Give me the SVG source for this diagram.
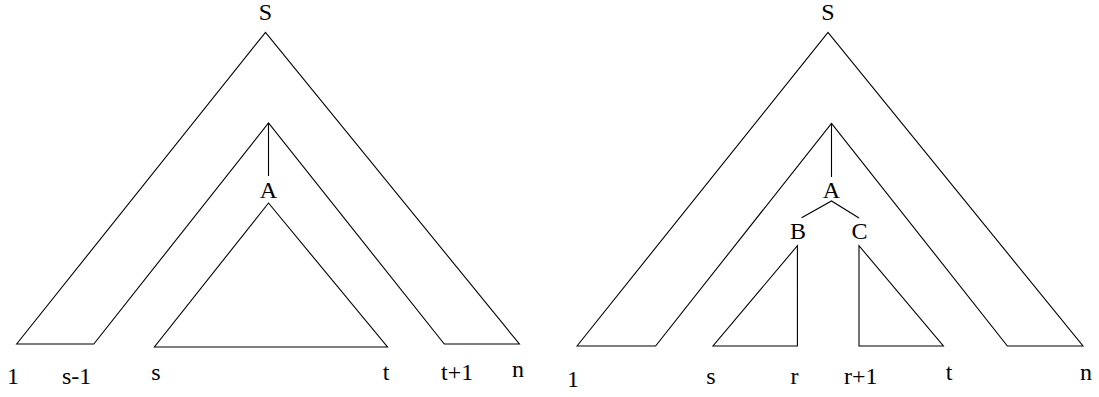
<svg xmlns="http://www.w3.org/2000/svg" width="1099" height="397" viewBox="0 0 1099 397">
<style>
.ln{fill:none;stroke:#000;stroke-width:1.1;stroke-linejoin:miter}
.lb{font-family:"Liberation Serif","Times New Roman",serif;font-size:24px;fill:#000;text-anchor:middle}
.ls{font-family:"Liberation Serif","Times New Roman",serif;font-size:24px;fill:#000;text-anchor:start}
</style>
<rect width="1099" height="397" fill="#fff"/>
<g id="connectors">
<path class="ln" d="M268.5,123 V176"/>
<path class="ln" d="M831.5,123.3 V177"/>
<path class="ln" d="M801.6,217.7 L831.5,201 L859,218"/>
</g>
<g id="left-tree">
<g id="left-S"><text class="lb" x="265.5" y="19.5">S</text></g>
<g id="left-outer"><path class="ln" d="M16.6,344 L265.5,32.3 L519.4,344 L444.3,344 L268.5,123 L93.8,344 Z"/></g>
<g id="left-A"><text class="lb" x="268.5" y="198">A</text></g>
<g id="left-inner"><path class="ln" d="M268.5,203 L387.5,347 L154.4,347 Z"/></g>
<g id="left-labels">
<text class="lb" x="13" y="384">1</text>
<text class="ls" x="62" y="384">s-1</text>
<text class="lb" x="156" y="380">s</text>
<text class="lb" x="386" y="380">t</text>
<text class="ls" x="441" y="380">t+1</text>
<text class="ls" x="512" y="377">n</text>
</g>
</g>
<g id="right-tree">
<g id="right-S"><text class="lb" x="828" y="19.5">S</text></g>
<g id="right-outer"><path class="ln" d="M577,346 L828,32.3 L1083,346 L1007.4,346 L831.5,123.3 L655.6,346 Z"/></g>
<g id="right-A"><text class="lb" x="831.5" y="198">A</text></g>
<g id="right-B"><text class="lb" x="798" y="239">B</text></g>
<g id="right-C"><text class="lb" x="859.6" y="239">C</text></g>
<g id="right-Btri"><path class="ln" d="M797.4,245.7 L797.4,346 L713,346 Z"/></g>
<g id="right-Ctri"><path class="ln" d="M859,245.7 L859,346 L943.4,346 Z"/></g>
<g id="right-labels">
<text class="lb" x="573" y="387">1</text>
<text class="lb" x="711" y="384">s</text>
<text class="lb" x="794.5" y="384">r</text>
<text class="ls" x="844" y="384">r+1</text>
<text class="lb" x="949" y="380">t</text>
<text class="lb" x="1086" y="380">n</text>
</g>
</g>
</svg>
